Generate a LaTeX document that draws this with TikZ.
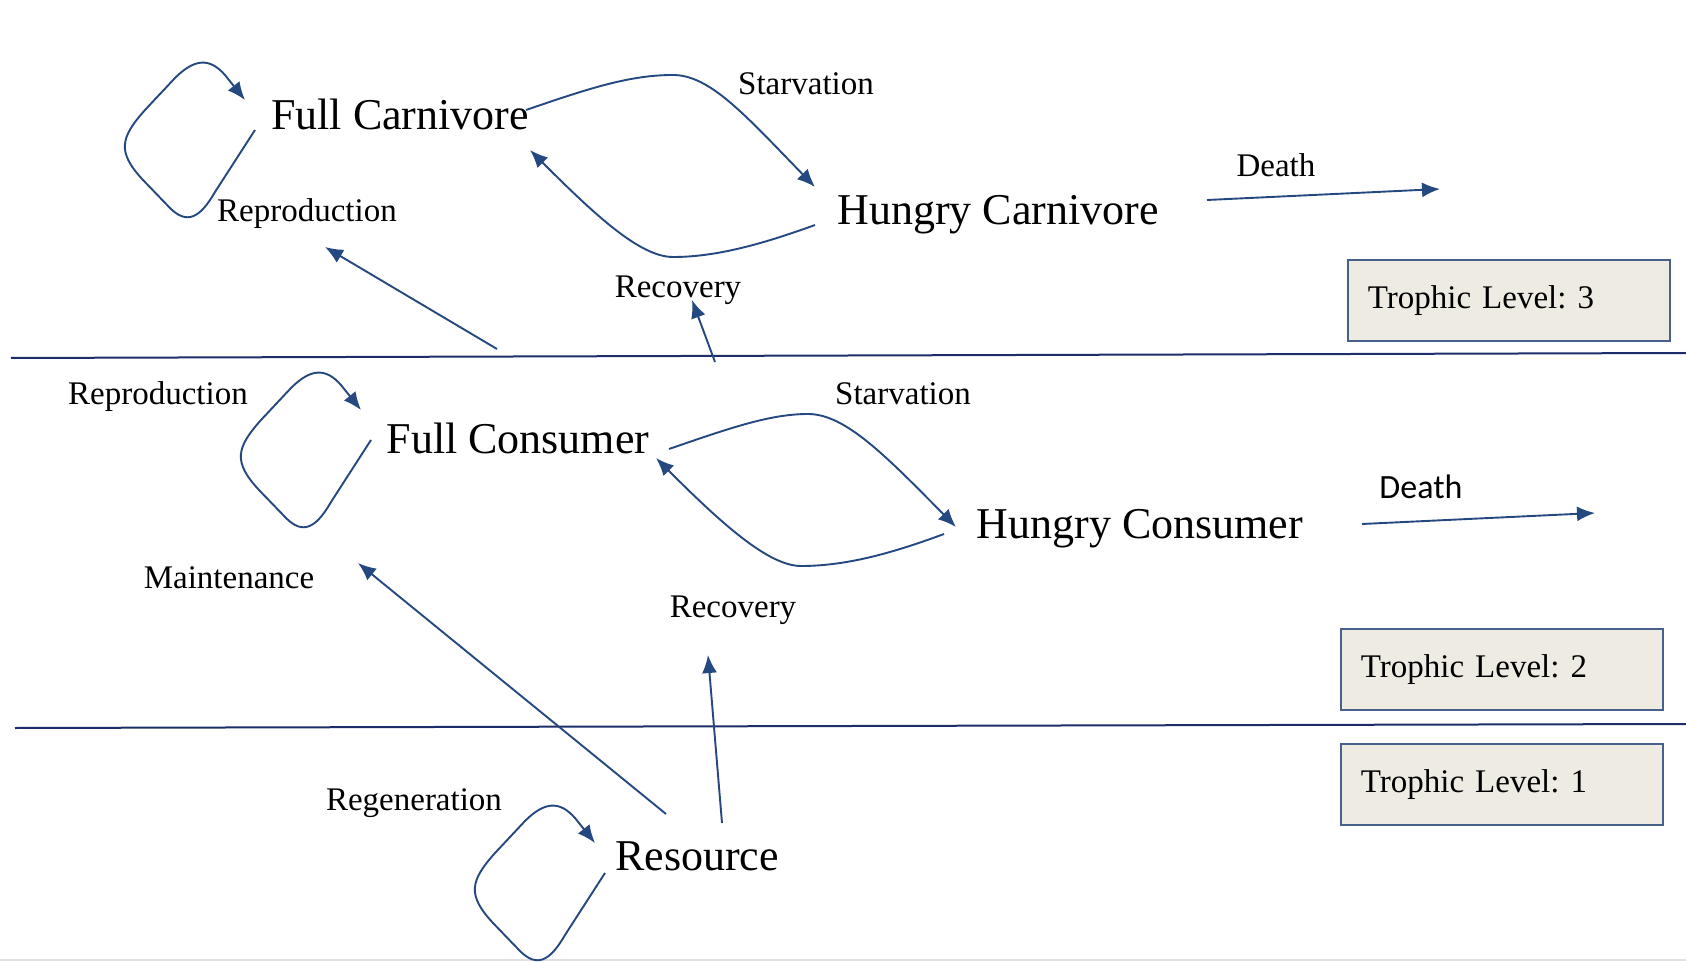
\documentclass[tikz,border=0pt]{standalone}
\usepackage{fontspec}
\setmainfont{Liberation Serif}
\newfontfamily\deathfont{Carlito}
\usetikzlibrary{arrows.meta}
\definecolor{arrowblue}{RGB}{38,72,128}
\definecolor{rulenavy}{RGB}{28,45,105}
\definecolor{boxfill}{RGB}{238,236,226}
\definecolor{boxline}{RGB}{72,96,140}
\newcommand\bigtxt{\fontsize{22}{26}\selectfont}
\newcommand\smtxt{\fontsize{16.5}{20}\selectfont}
\frenchspacing
\begin{document}
\begin{tikzpicture}[x=0.5pt,y=-0.5pt,
  arr/.style={draw=arrowblue, line width=0.95pt, -{Latex[length=9pt,width=7.5pt]}},
  lbl/.style={inner sep=0pt, anchor=base, font=\smtxt},
  big/.style={inner sep=0pt, anchor=base, font=\bigtxt},
  tbox/.style={draw=boxline, fill=boxfill, line width=0.9pt, anchor=north west,
    inner xsep=10pt, inner ysep=0pt, minimum height=40.5pt, text width=141pt,
    align=left, font=\smtxt},
  rule/.style={draw=rulenavy, line width=1pt},
  pics/selfloop/.style={code={
    \draw[arr] (0,0) -- (-40,62) .. controls (-55,88) and (-68,95) .. (-85,78)
      -- (-112,50) .. controls (-138,22) and (-135,8) .. (-110,-20)
      -- (-80,-52) .. controls (-60,-72) and (-45,-72) .. (-30,-55) -- (-10,-30);}}
]
\fill[white] (0,0) rectangle (1686,962);
\useasboundingbox (0,0) rectangle (1686,962);

% level separators
\coordinate (r1a) at (11,358);  \coordinate (r1b) at (1686,353);
\coordinate (r2a) at (15,728);  \coordinate (r2b) at (1686,724);
\draw[rule] (r1a) -- (r1b);
\draw[rule] (r2a) -- (r2b);
\draw[black!12, line width=1.2pt] (0,960) -- (1686,960);

% ---- trophic level 3
\node[big] (fcar) at (400,130) {Full Carnivore};
\node[big] (hcar) at (998,225) {Hungry Carnivore};
\node[lbl] (starv3) at (806,95) {Starvation};
\node[lbl] (repro3) at (307,222) {Reproduction};
\node[lbl] (recov3) at (678,298) {Recovery};
\node[lbl] (death3) at (1276,177) {Death};
\node[tbox] (tl3) at (1347,259) {Trophic Level: 3};

\coordinate (loop3) at (255,130);
\pic at (loop3) {selfloop};

\coordinate (s3a) at (526,110); \coordinate (s3b) at (815,187);
\draw[arr] (s3a) .. controls (590,88) and (630,75) .. (673,75)
  .. controls (710,75) and (745,115) .. (s3b);
\coordinate (c3a) at (815,225); \coordinate (c3b) at (530,150);
\draw[arr] (c3a) .. controls (760,245) and (715,257) .. (673,257)
  .. controls (640,257) and (595,215) .. (c3b);
\coordinate (d3a) at (1207,200); \coordinate (d3b) at (1440,189);
\draw[arr] (d3a) -- (d3b);
\coordinate (p3a) at (497,349); \coordinate (p3b) at (325,247);
\draw[arr] (p3a) -- (p3b);
\coordinate (u3a) at (715,362); \coordinate (u3b) at (692,300);
\draw[arr] (u3a) -- (u3b);

% ---- trophic level 2
\node[big] (fcon) at (518,453) {Full Consumer};
\node[big] (hcon) at (1140,538) {Hungry Consumer};
\node[lbl] (starv2) at (903,405) {Starvation};
\node[lbl] (repro2) at (158,405) {Reproduction};
\node[lbl] (maint) at (229,588) {Maintenance};
\node[lbl] (recov2) at (733,617) {Recovery};
\node[inner sep=0pt, anchor=base, font=\deathfont\fontsize{17}{20}\selectfont] (death2) at (1421,498) {Death};
\node[tbox] (tl2) at (1340,628) {Trophic Level: 2};

\coordinate (loop2) at (371,440);
\pic at (loop2) {selfloop};

\coordinate (s2a) at (669,449); \coordinate (s2b) at (956,527);
\draw[arr] (s2a) .. controls (730,428) and (770,414) .. (808,414)
  .. controls (845,414) and (885,455) .. (s2b);
\coordinate (c2a) at (944,534); \coordinate (c2b) at (656,458);
\draw[arr] (c2a) .. controls (890,554) and (845,566) .. (801,566)
  .. controls (768,566) and (720,522) .. (c2b);
\coordinate (d2a) at (1362,524); \coordinate (d2b) at (1595,513);
\draw[arr] (d2a) -- (d2b);

% ---- trophic level 1
\node[big] (res) at (697,870) {Resource};
\node[lbl] (regen) at (414,810) {Regeneration};
\node[tbox] (tl1) at (1340,743) {Trophic Level: 1};

\coordinate (loop1) at (605,873);
\pic at (loop1) {selfloop};

\coordinate (m1a) at (666,814); \coordinate (m1b) at (358,563);
\draw[arr] (m1a) -- (m1b);
\coordinate (u1a) at (722,823); \coordinate (u1b) at (708,655);
\draw[arr] (u1a) -- (u1b);
\end{tikzpicture}
\end{document}
